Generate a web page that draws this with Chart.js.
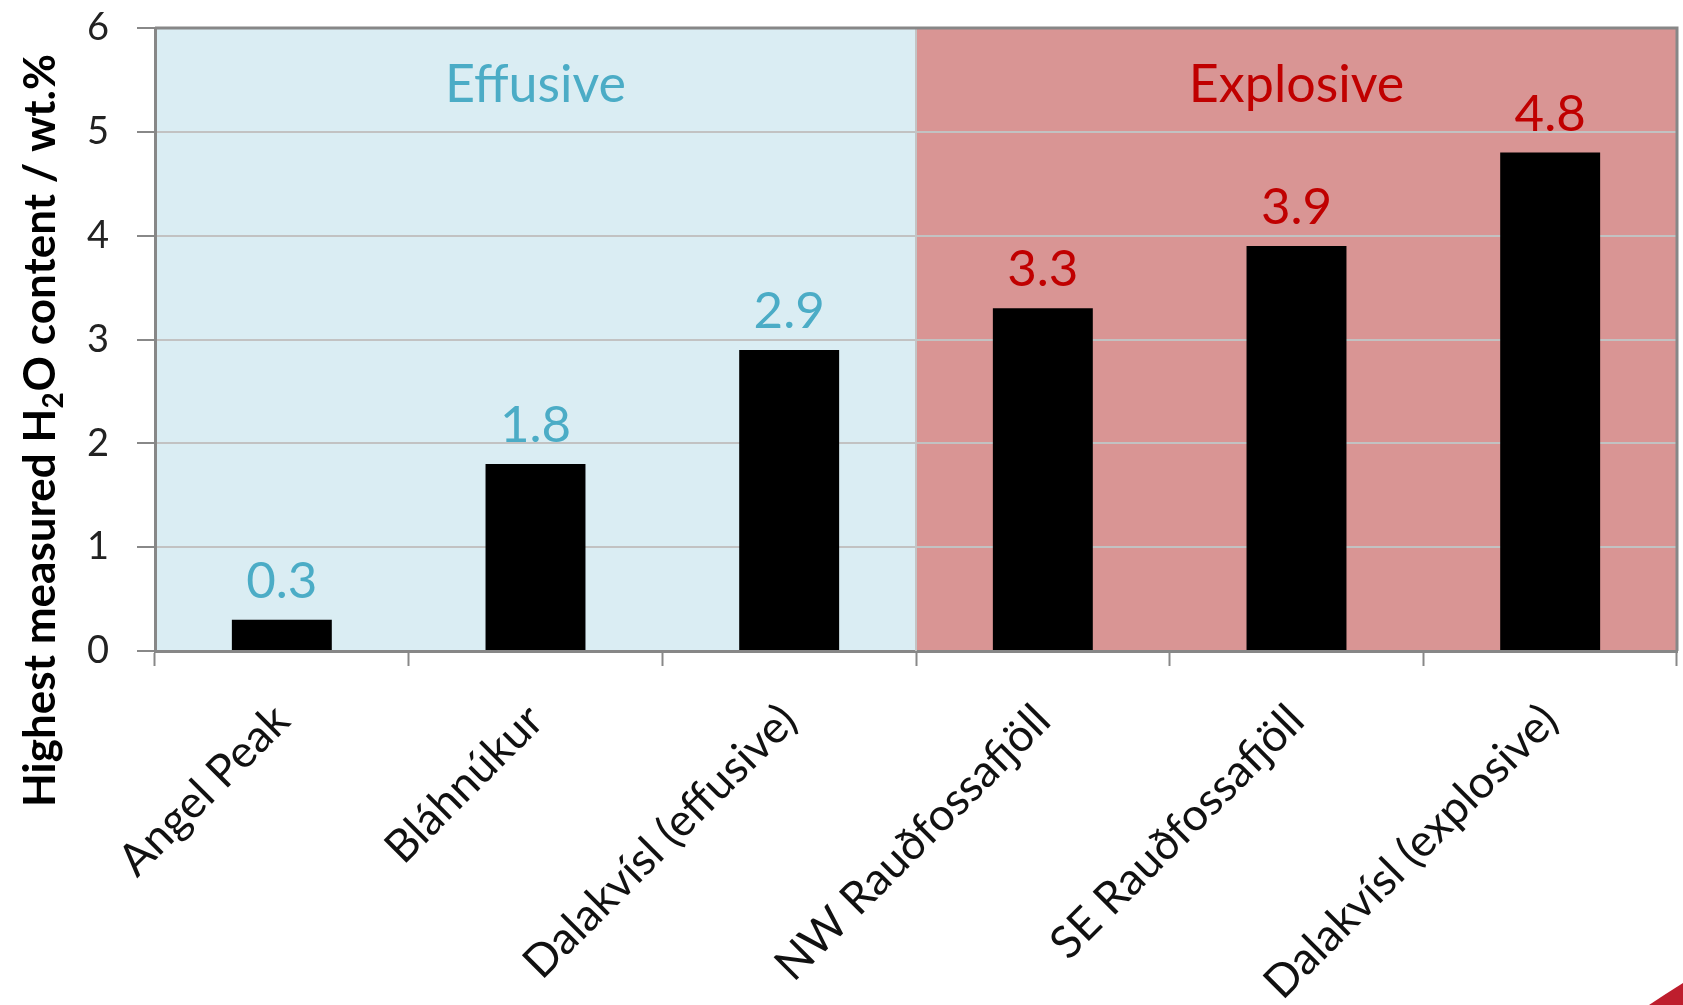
<!DOCTYPE html>
<html>
<head>
<meta charset="utf-8">
<script src="https://cdn.jsdelivr.net/npm/chart.js@4.4.0/dist/chart.umd.min.js"></script>
<style>
  html, body { margin: 0; padding: 0; background: #ffffff; }
  #wrap { width: 1683px; height: 1005px; position: relative; }
</style>
</head>
<body>
<div id="wrap"><canvas id="c" width="1683" height="1005"></canvas></div>
<script>
// Highest measured water content per sampled locality
const categories = ['Angel Peak', 'Bláhnúkur', 'Dalakvísl (effusive)', 'NW Rauðfossafjöll', 'SE Rauðfossafjöll', 'Dalakvísl (explosive)'];
const maxWater = [0.3, 1.8, 2.9, 3.3, 3.9, 4.8];
const eruptionStyle = ['Effusive', 'Effusive', 'Effusive', 'Explosive', 'Explosive', 'Explosive'];
const groupNames = ['Effusive', 'Explosive'];
const yTickValues = [0, 1, 2, 3, 4, 5, 6];
// axis title pieces: normal text, subscript, normal text
const yTitleParts = [['Highest measured H', false], ['2', true], ['O content / wt.%', false]];

const groupStyle = {
  Effusive:  { fill: '#DAEDF3', text: '#4BACC6' },
  Explosive: { fill: '#D99594', text: '#C00000' }
};
const FONT = 'Lato';

// Shaded background band behind each eruption-style group, plus group headings,
// value labels, the plot-area frame and the rotated axis title with subscript.
const groupPlugin = {
  id: 'groups',
  groupSpan(chart, name) {
    const x = chart.scales.x;
    const idx = eruptionStyle.map((g, i) => g === name ? i : -1).filter(i => i >= 0);
    const half = (x.getPixelForValue(1) - x.getPixelForValue(0)) / 2;
    return [x.getPixelForValue(idx[0]) - half, x.getPixelForValue(idx[idx.length - 1]) + half];
  },
  beforeDraw(chart) {
    const { ctx, chartArea: a } = chart;
    ctx.save();
    groupNames.forEach(name => {
      const [l, r] = this.groupSpan(chart, name);
      ctx.fillStyle = groupStyle[name].fill;
      ctx.fillRect(l, a.top, r - l, a.bottom - a.top);
    });
    ctx.restore();
  },
  afterDatasetsDraw(chart) {
    const { ctx, chartArea: a } = chart;
    const y = chart.scales.y;
    ctx.save();
    // divider between the two groups
    const [, split] = this.groupSpan(chart, groupNames[0]);
    ctx.strokeStyle = '#C4C4C4';
    ctx.lineWidth = 2;
    ctx.beginPath();
    ctx.moveTo(split, a.top);
    ctx.lineTo(split, a.bottom);
    ctx.stroke();

    // frame: top and right edges
    ctx.strokeStyle = '#878787';
    ctx.lineWidth = 3;
    ctx.beginPath();
    ctx.moveTo(a.left, a.top);
    ctx.lineTo(a.right, a.top);
    ctx.lineTo(a.right, a.bottom);
    ctx.stroke();

    // group headings
    ctx.font = `52px ${FONT}`;
    ctx.textAlign = 'center';
    ctx.textBaseline = 'alphabetic';
    groupNames.forEach(name => {
      const [l, r] = this.groupSpan(chart, name);
      ctx.fillStyle = groupStyle[name].text;
      ctx.fillText(name, (l + r) / 2, y.getPixelForValue(5.29));
    });

    // value labels above bars
    ctx.font = `51px ${FONT}`;
    const meta = chart.getDatasetMeta(0);
    meta.data.forEach((bar, i) => {
      ctx.fillStyle = groupStyle[eruptionStyle[i]].text;
      ctx.fillText(maxWater[i].toFixed(1), bar.x, bar.y - 22);
    });
    ctx.restore();
  },
  afterDraw(chart) {
    const { ctx, width, height } = chart;
    ctx.save();
    // rotated y-axis title with subscript
    ctx.translate(55, 807);
    ctx.rotate(-Math.PI / 2);
    ctx.fillStyle = '#000000';
    ctx.textAlign = 'left';
    ctx.textBaseline = 'alphabetic';
    let pos = 0;
    yTitleParts.forEach(([txt, sub]) => {
      ctx.font = sub ? `bold 28px ${FONT}` : `bold 44px ${FONT}`;
      ctx.fillText(txt, pos, sub ? 8 : 0);
      pos += ctx.measureText(txt).width + (sub ? 1 : 0);
    });
    ctx.restore();

    // red corner accent of the slide
    ctx.save();
    ctx.fillStyle = '#BE1E2D';
    ctx.beginPath();
    ctx.moveTo(width - 34, height);
    ctx.quadraticCurveTo(width - 16, height - 12, width, height - 22);
    ctx.lineTo(width, height);
    ctx.closePath();
    ctx.fill();
    ctx.restore();
  }
};

new Chart(document.getElementById('c'), {
  type: 'bar',
  data: {
    labels: categories,
    datasets: [{
      data: maxWater,
      backgroundColor: '#000000',
      borderWidth: 0,
      categoryPercentage: 1.0,
      barPercentage: 0.394
    }]
  },
  options: {
    responsive: false,
    devicePixelRatio: 1,
    animation: false,
    layout: { padding: { top: 28, right: 6, left: 0, bottom: 0 } },
    plugins: {
      legend: { display: false },
      tooltip: { enabled: false }
    },
    scales: {
      x: {
        type: 'category',
        grid: {
          offset: true,
          drawOnChartArea: false,
          drawTicks: true,
          tickLength: 15,
          tickColor: '#888888',
          tickWidth: 2
        },
        border: { color: '#878787', width: 3 },
        ticks: {
          font: { family: FONT, size: 45 },
          color: '#111111',
          maxRotation: 45,
          minRotation: 45,
          padding: 28,
          autoSkip: false
        },
        afterFit(scale) { scale.height = 354; }
      },
      y: {
        min: 0,
        max: 6,
        afterBuildTicks(scale) { scale.ticks = yTickValues.map(v => ({ value: v })); },
        grid: {
          color: '#C2C2C2',
          lineWidth: 2,
          tickLength: 18,
          tickColor: '#888888',
          tickWidth: 2
        },
        border: { color: '#878787', width: 3 },
        ticks: {
          font: { family: FONT, size: 38 },
          color: '#222222',
          padding: 28
        },
        title: { display: false },
        afterFit(scale) {
          scale.width = 155;
          scale.paddingTop = 0;
          scale.paddingBottom = 0;
        }
      }
    }
  },
  plugins: [groupPlugin]
});
</script>
</body>
</html>
